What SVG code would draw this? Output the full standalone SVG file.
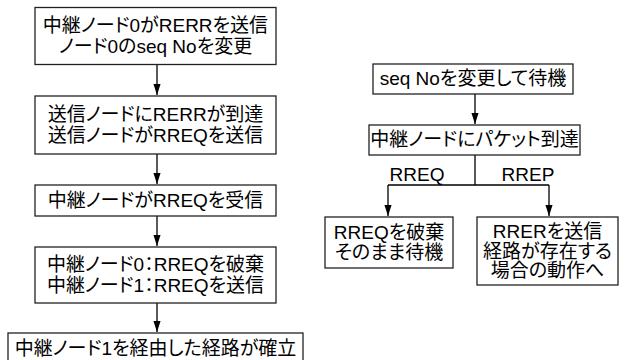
<svg xmlns="http://www.w3.org/2000/svg" width="626" height="360" viewBox="0 0 626 360">
<style>
.box{fill:#fff;stroke:#222;stroke-width:1.3}
.t{font-family:"Liberation Sans","Noto Sans CJK JP",sans-serif;font-size:19px;fill:#000;text-anchor:middle;font-feature-settings:"palt" 1}
.c{fill:none;stroke:#000;stroke-width:1.3}
</style>
<defs>
<marker id="ah" markerWidth="11" markerHeight="17" refX="17" refY="5.5" orient="auto" markerUnits="userSpaceOnUse" viewBox="0 0 17 11">
<path d="M0,0 L17,5.5 L0,11 Z" fill="#000"/>
</marker>
</defs>
<rect width="626" height="360" fill="#fff"/>
<g id="connectors">
<path class="c" d="M157,65 V95" marker-end="url(#ah)"/>
<path class="c" d="M157,154 V184" marker-end="url(#ah)"/>
<path class="c" d="M157,216 V246" marker-end="url(#ah)"/>
<path class="c" d="M157,303 V332" marker-end="url(#ah)"/>
<path class="c" d="M475,94 V124" marker-end="url(#ah)"/>
<path class="c" d="M475,155 V185 M388,185 H549"/>
<path class="c" d="M388,185 V216" marker-end="url(#ah)"/>
<path class="c" d="M549,185 V216" marker-end="url(#ah)"/>
<text class="t" x="417" y="181">RREQ</text>
<text class="t" x="528" y="181">RREP</text>
</g>
<g id="n1"><rect class="box" x="35" y="7.5" width="241" height="57"/>
<text class="t" x="155.5" y="32">中継ノード0がRERRを送信</text>
<text class="t" x="155.5" y="53">ノード0のseq Noを変更</text></g>
<g id="n2"><rect class="box" x="35" y="96" width="241" height="58"/>
<text class="t" x="155.5" y="121">送信ノードにRERRが到達</text>
<text class="t" x="155.5" y="142">送信ノードがRREQを送信</text></g>
<g id="n3"><rect class="box" x="35" y="185" width="241" height="31"/>
<text class="t" x="155.5" y="207">中継ノードがRREQを受信</text></g>
<g id="n4"><rect class="box" x="35" y="247" width="241" height="56"/>
<text class="t" x="155.5" y="271">中継ノード0：RREQを破棄</text>
<text class="t" x="155.5" y="292">中継ノード1：RREQを送信</text></g>
<g id="n5"><rect class="box" x="8" y="333" width="295" height="34"/>
<text class="t" x="155.5" y="355">中継ノード1を経由した経路が確立</text></g>
<g id="r1"><rect class="box" x="373" y="64" width="200" height="30"/>
<text class="t" x="473" y="85">seq Noを変更して待機</text></g>
<g id="r2"><rect class="box" x="369" y="125" width="211" height="30"/>
<text class="t" x="474.5" y="146">中継ノードにパケット到達</text></g>
<g id="r3"><rect class="box" x="325" y="217" width="128" height="51"/>
<text class="t" x="389" y="239">RREQを破棄</text>
<text class="t" x="389" y="259">そのまま待機</text></g>
<g id="r4"><rect class="box" x="477" y="217" width="141" height="68"/>
<text class="t" x="547.5" y="238">RRERを送信</text>
<text class="t" x="547.5" y="258">経路が存在する</text>
<text class="t" x="547.5" y="277">場合の動作へ</text></g>
</svg>
